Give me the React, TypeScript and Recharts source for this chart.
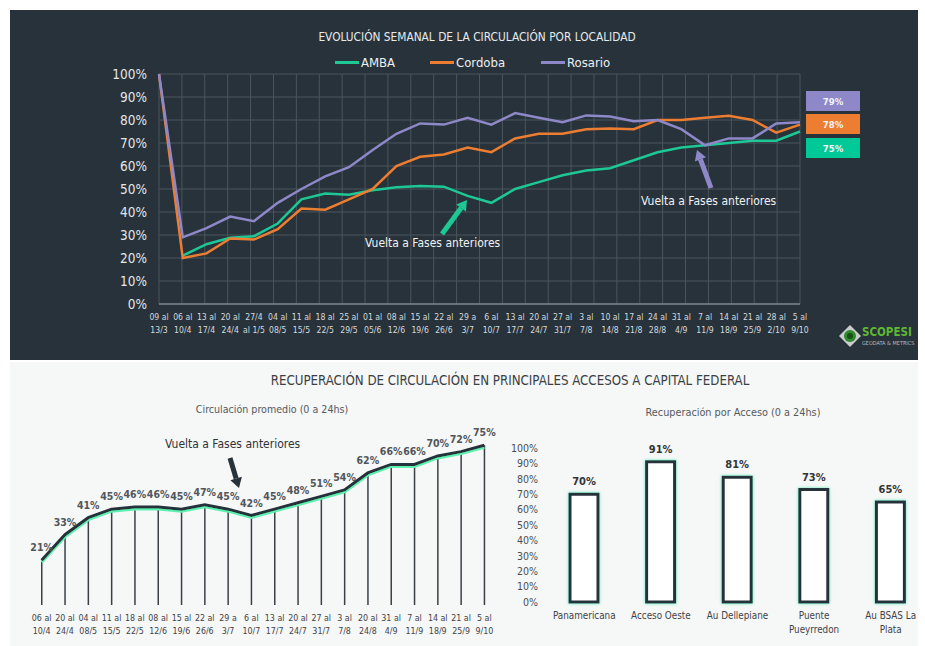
import React from 'react';
import { LineChart, Line, XAxis, YAxis, CartesianGrid, ComposedChart, Bar, BarChart, LabelList } from 'recharts';

// weekly circulation by city (top panel)
const weekLabels = [
  '09 al\n13/3', '06 al\n10/4', '13 al\n17/4', '20 al\n24/4', '27/4\nal 1/5', '04 al\n08/5', '11 al\n15/5',
  '18 al\n22/5', '25 al\n29/5', '01 al\n05/6', '08 al\n12/6', '15 al\n19/6', '22 al\n26/6', '29 a\n3/7',
  '6 al\n10/7', '13 al\n17/7', '20 al\n24/7', '27 al\n31/7', '3 al\n7/8', '10 al\n14/8', '17 al\n21/8',
  '24 al\n28/8', '31 al\n4/9', '7 al\n11/9', '14 al\n18/9', '21 al\n25/9', '28 al\n2/10', '5 al\n9/10',
];
const ambaValues = [null, 21, 26, 28.8, 29.5, 35, 45.5, 48, 47.5, 49.5, 50.8, 51.3, 51, 47, 44, 50, 53, 56, 58, 59, 62.5, 66, 68, 69, 70, 71, 71, 75];
const cordobaValues = [100, 20, 22, 28.5, 28, 32.5, 41.5, 41, 45.5, 50, 60, 64, 65, 68, 66, 72, 74, 74, 76, 76.3, 76, 80, 80, 81, 81.8, 80, 74.5, 78];
const rosarioValues = [100, 29, 33, 38, 36, 44, 50, 55.5, 59.5, 67, 74, 78.5, 78, 81, 78, 83, 81, 79, 82, 81.5, 79.5, 80, 76, 69, 72, 72, 78.5, 79];

// average circulation, bottom left
const avgLabels = [
  '06 al\n10/4', '20 al\n24/4', '04 al\n08/5', '11 al\n15/5', '18 al\n22/5', '08 al\n12/6', '15 al\n19/6',
  '22 al\n26/6', '29 a\n3/7', '6 al\n10/7', '13 al\n17/7', '20 al\n24/7', '27 al\n31/7', '3 al\n7/8',
  '20 al\n24/8', '31 al\n4/9', '7 al\n11/9', '14 al\n18/9', '21 al\n25/9', '5 al\n9/10',
];
const avgValues = [21, 33, 41, 45, 46, 46, 45, 47, 45, 42, 45, 48, 51, 54, 62, 66, 66, 70, 72, 75];

// recovery by access, bottom right
const accessNames = ['Panamericana', 'Acceso Oeste', 'Au Dellepiane', 'Puente\nPueyrredon', 'Au BSAS La\nPlata'];
const accessValues = [70, 91, 81, 73, 65];

const pctTicks = [0, 10, 20, 30, 40, 50, 60, 70, 80, 90, 100];

const FONT = '"DejaVu Sans Condensed", "Liberation Sans Narrow", Roboto, sans-serif';
const DARK = '#27323a';
const C_AMBA = '#1dc895';
const C_CORDOBA = '#ed7d31';
const C_ROSARIO = '#8e88c8';

const weeklyData = weekLabels.map((w, i) => ({
  week: w,
  amba: ambaValues[i],
  cordoba: cordobaValues[i],
  rosario: rosarioValues[i],
}));
const avgData = avgLabels.map((w, i) => ({ week: w, value: avgValues[i] }));
const accessData = accessNames.map((n, i) => ({ name: n, value: accessValues[i] }));

// top chart geometry (used for the band-edge grid lines)
const TOP_W = 720;
const TOP_LEFT = 59;
const TOP_PLOT_W = 641;
const gridX = weekLabels.map((_, i) => TOP_LEFT + (i * TOP_PLOT_W) / weekLabels.length);
gridX.push(TOP_LEFT + TOP_PLOT_W);

function TwoLineTick(props: any) {
  const { x, y, payload, fill, fontSize, gap } = props;
  const lines = String(payload.value).split('\n');
  return (
    <text x={x} y={y} textAnchor="middle" fill={fill} fontSize={fontSize} fontFamily={FONT}>
      {lines.map((l, i) => (
        <tspan key={i} x={x} dy={i === 0 ? '0.9em' : gap}>{l}</tspan>
      ))}
    </text>
  );
}

function Arrow({ x1, y1, x2, y2, color, w }: any) {
  const ang = Math.atan2(y2 - y1, x2 - x1);
  const hl = 10;
  const hw = 6;
  const bx = x2 - hl * Math.cos(ang);
  const by = y2 - hl * Math.sin(ang);
  const px = -Math.sin(ang) * hw;
  const py = Math.cos(ang) * hw;
  return (
    <g>
      <line x1={x1} y1={y1} x2={bx} y2={by} stroke={color} strokeWidth={w} />
      <polygon points={`${x2},${y2} ${bx + px},${by + py} ${bx - px},${by - py}`} fill={color} />
    </g>
  );
}

const legendItems = [
  { name: 'AMBA', color: C_AMBA, x: 335 },
  { name: 'Cordoba', color: C_CORDOBA, x: 430 },
  { name: 'Rosario', color: C_ROSARIO, x: 541 },
];

const badges = [
  { value: rosarioValues[rosarioValues.length - 1], color: C_ROSARIO, top: 91 },
  { value: cordobaValues[cordobaValues.length - 1], color: C_CORDOBA, top: 114 },
  { value: ambaValues[ambaValues.length - 1], color: '#00c896', top: 138 },
];

export default function App() {
  return (
    <div style={{ position: 'relative', width: 925, height: 646, overflow: 'hidden', background: '#fff', fontFamily: FONT }}>
      <style>{'body{margin:0}'}</style>

      {/* top dark panel */}
      <div style={{ position: 'absolute', left: 10, top: 10, width: 908, height: 350, background: DARK }} />
      <div style={{ position: 'absolute', left: 477, top: 30, transform: 'translateX(-50%)', color: '#e8eaec', fontSize: 11.8, whiteSpace: 'nowrap' }}>
        EVOLUCIÓN SEMANAL DE LA CIRCULACIÓN POR LOCALIDAD
      </div>

      {legendItems.map((it) => (
        <div key={it.name} style={{ position: 'absolute', left: it.x, top: 55, display: 'flex', alignItems: 'center', whiteSpace: 'nowrap' }}>
          <span style={{ display: 'inline-block', width: 24, height: 3, background: it.color }} />
          <span style={{ color: '#eef0f2', fontSize: 13, marginLeft: 2 }}>{it.name}</span>
        </div>
      ))}

      <div style={{ position: 'absolute', left: 100, top: 50 }}>
        <LineChart width={TOP_W} height={290} data={weeklyData} margin={{ top: 24, right: 20, left: 9, bottom: 2 }}>
          <CartesianGrid stroke="#4c555d" strokeWidth={1} verticalPoints={gridX} />
          <XAxis
            dataKey="week"
            height={34}
            interval={0}
            tickLine={false}
            axisLine={{ stroke: '#9aa1a8' }}
            tick={<TwoLineTick fill="#d6dade" fontSize={8.6} gap={13} />}
          />
          <YAxis
            width={50}
            domain={[0, 100]}
            ticks={pctTicks}
            interval={0}
            tickFormatter={(v) => `${v}%`}
            axisLine={false}
            tickLine={false}
            tickMargin={6}
            tick={{ fill: '#e4e6e8', fontSize: 13.5, fontFamily: FONT }}
          />
          <Line dataKey="amba" stroke={C_AMBA} strokeWidth={2.5} dot={false} isAnimationActive={false} connectNulls={false} />
          <Line dataKey="cordoba" stroke={C_CORDOBA} strokeWidth={2.5} dot={false} isAnimationActive={false} />
          <Line dataKey="rosario" stroke={C_ROSARIO} strokeWidth={2.5} dot={false} isAnimationActive={false} />
        </LineChart>
      </div>

      <svg style={{ position: 'absolute', left: 0, top: 0 }} width={925} height={360}>
        <Arrow x1={442} y1={234} x2={467} y2={200} color={C_AMBA} w={5} />
        <Arrow x1={711} y1={188} x2={697} y2={150} color={C_ROSARIO} w={5} />
      </svg>
      <div style={{ position: 'absolute', left: 365, top: 236, color: '#f0f2f4', fontSize: 12, whiteSpace: 'nowrap' }}>Vuelta a Fases anteriores</div>
      <div style={{ position: 'absolute', left: 641, top: 194, color: '#f0f2f4', fontSize: 12, whiteSpace: 'nowrap' }}>Vuelta a Fases anteriores</div>

      {badges.map((b, i) => (
        <div key={i} style={{ position: 'absolute', left: 806, top: b.top, width: 54, height: 20, background: b.color, color: '#f4f4f8', fontSize: 9.5, fontWeight: 'bold', display: 'flex', alignItems: 'center', justifyContent: 'center' }}>
          {b.value}%
        </div>
      ))}

      {/* logo */}
      <svg style={{ position: 'absolute', left: 838, top: 324 }} width={24} height={24}>
        <polygon points="12,1 23,12 12,23 1,12" fill="#c9cbcc" />
        <circle cx={12} cy={12} r={6} fill="#2f8a2a" />
        <circle cx={12} cy={12} r={3} fill="#1b4d18" />
      </svg>
      <div style={{ position: 'absolute', left: 862, top: 325, color: '#5fb832', fontSize: 11.5, fontWeight: 'bold', whiteSpace: 'nowrap' }}>SCOPESI</div>
      <div style={{ position: 'absolute', left: 862, top: 340, color: '#b8bcc0', fontSize: 5.5, whiteSpace: 'nowrap' }}>GEODATA &amp; METRICS</div>

      {/* bottom light panel */}
      <div style={{ position: 'absolute', left: 10, top: 362, width: 908, height: 284, background: '#f6f7f7' }} />
      <div style={{ position: 'absolute', left: 510, top: 373, transform: 'translateX(-50%)', color: '#3a3f44', fontSize: 13.2, whiteSpace: 'nowrap' }}>
        RECUPERACIÓN DE CIRCULACIÓN EN PRINCIPALES ACCESOS A CAPITAL FEDERAL
      </div>
      <div style={{ position: 'absolute', left: 272, top: 403, transform: 'translateX(-50%)', color: '#555a5e', fontSize: 10.6, whiteSpace: 'nowrap' }}>
        Circulación promedio (0 a 24hs)
      </div>
      <div style={{ position: 'absolute', left: 733, top: 406, transform: 'translateX(-50%)', color: '#555a5e', fontSize: 10.8, whiteSpace: 'nowrap' }}>
        Recuperación por Acceso (0 a 24hs)
      </div>
      <div style={{ position: 'absolute', left: 165, top: 437, color: '#2e3338', fontSize: 12, whiteSpace: 'nowrap' }}>Vuelta a Fases anteriores</div>

      <div style={{ position: 'absolute', left: 20, top: 380 }}>
        <ComposedChart width={490} height={265} data={avgData} margin={{ top: 12, right: 14, left: 10, bottom: 6 }}>
          <defs>
            <filter id="lineGlow" x="-5%" y="-20%" width="110%" height="140%">
              <feDropShadow dx={0} dy={2} stdDeviation={0.5} floodColor="#5df0b0" floodOpacity={1} />
            </filter>
          </defs>
          <XAxis
            dataKey="week"
            height={34}
            interval={0}
            tickLine={false}
            axisLine={false}
            tick={<TwoLineTick fill="#3e4348" fontSize={8.8} gap={13} />}
          />
          <YAxis hide domain={[0, 100]} />
          <Bar dataKey="value" barSize={1.5} fill="#3a4046" isAnimationActive={false} />
          <Line dataKey="value" stroke={DARK} strokeWidth={3} dot={false} filter="url(#lineGlow)" isAnimationActive={false}>
            <LabelList dataKey="value" position="top" offset={9} formatter={(v: any) => `${v}%`} fill="#50565b" fontSize={10.5} fontWeight="bold" fontFamily={FONT} />
          </Line>
        </ComposedChart>
      </div>

      <svg style={{ position: 'absolute', left: 0, top: 362 }} width={925} height={284}>
        <Arrow x1={230} y1={96} x2={239} y2={126} color={DARK} w={5} />
      </svg>

      <div style={{ position: 'absolute', left: 490, top: 430 }}>
        <BarChart width={439} height={212} data={accessData} margin={{ top: 18, right: 0, left: 6, bottom: 0 }}>
          <defs>
            <filter id="barGlow" x="-30%" y="-10%" width="160%" height="120%">
              <feDropShadow dx={0} dy={0} stdDeviation={1.5} floodColor="#3ee8b0" floodOpacity={0.9} />
            </filter>
          </defs>
          <XAxis
            dataKey="name"
            height={40}
            interval={0}
            tickLine={false}
            axisLine={false}
            tick={<TwoLineTick fill="#3e4348" fontSize={9.8} gap={14} />}
          />
          <YAxis
            width={50}
            domain={[0, 100]}
            ticks={pctTicks}
            interval={0}
            tickFormatter={(v) => `${v}%`}
            axisLine={false}
            tickLine={false}
            tick={{ fill: '#4a4f54', fontSize: 10.5, fontFamily: FONT }}
          />
          <Bar dataKey="value" barSize={28} fill="#ffffff" stroke={DARK} strokeWidth={3} filter="url(#barGlow)" isAnimationActive={false}>
            <LabelList dataKey="value" position="top" offset={9} formatter={(v: any) => `${v}%`} fill="#30353a" fontSize={11} fontWeight="bold" fontFamily={FONT} />
          </Bar>
        </BarChart>
      </div>
    </div>
  );
}
